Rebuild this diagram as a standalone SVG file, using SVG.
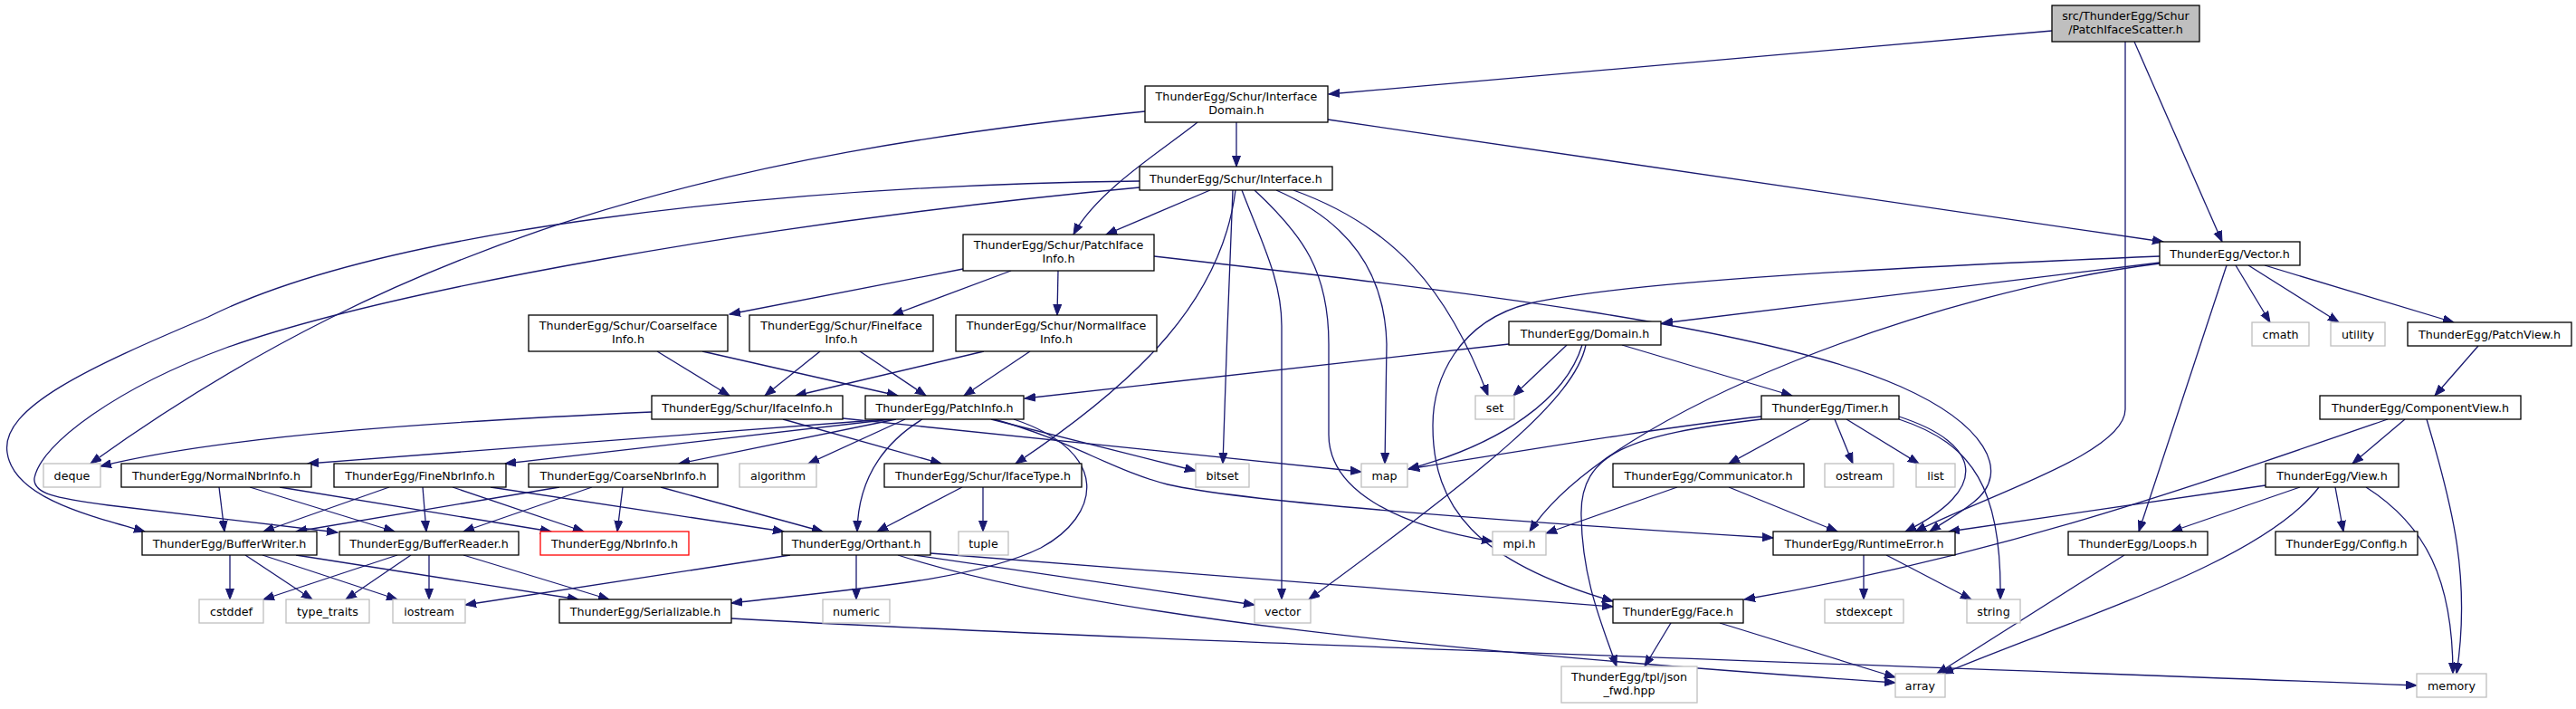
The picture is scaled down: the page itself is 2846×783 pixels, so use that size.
<svg xmlns="http://www.w3.org/2000/svg" width="2846" height="783" viewBox="0 0 2846 783">
<style>
.n rect{fill:#fff;stroke:#000;stroke-width:1.3}
.n.g rect{stroke:#bfbfbf}
.n.r rect{stroke:#f00}
.n.s rect{fill:#bfbfbf}
text{font-family:"DejaVu Sans","Liberation Sans",sans-serif;font-size:12.7px;text-anchor:middle;fill:#000}
#edges path{fill:none;stroke:#191970;stroke-width:1.3;marker-end:url(#a)}
</style>
<defs>
<marker id="a" markerWidth="14" markerHeight="11" refX="12" refY="5" orient="auto" markerUnits="userSpaceOnUse">
<path d="M0,0.5 L12,5 L0,9.5z" fill="#191970" stroke="#191970" stroke-width="1"/>
</marker>
</defs>
<rect x="0" y="0" width="2846" height="783" fill="#fff"/>
<g id="edges">
<path d="M2267,34 L1468,104"/>
<path d="M2348,46 L2348,452 C2348,500 2200,545 2116,587"/>
<path d="M2358,46 L2455,267"/>
<path d="M1366,135 L1366,184"/>
<path d="M1323,135 C1290,162 1212,210 1186,259"/>
<path d="M1467,132 L2390,267"/>
<path d="M1265,123 C800,170 450,260 100,512"/>
<path d="M1337,210 L1222,259"/>
<path d="M1259,200 C850,205 420,255 230,350 C100,405 0,450 8,500 C15,550 100,570 160,587"/>
<path d="M1259,207 C850,245 430,320 250,384 C130,428 45,490 38,528 C36,545 60,550 120,558 L373,588"/>
<path d="M1365,210 C1350,330 1260,420 1122,512"/>
<path d="M1362,210 C1358,300 1354,420 1351,512"/>
<path d="M1372,210 C1395,270 1416,310 1416,360 L1416,662"/>
<path d="M1386,210 C1440,260 1468,300 1468,380 L1468,480 C1468,540 1540,580 1649,598"/>
<path d="M1410,210 C1490,245 1530,300 1532,380 L1530,512"/>
<path d="M1429,210 C1540,250 1600,320 1644,437"/>
<path d="M1064,297 L806,347"/>
<path d="M1117,299 L986,348"/>
<path d="M1169,299 L1168,348"/>
<path d="M1275,283 C1600,320 1950,360 2100,427 C2190,467 2225,520 2180,555 C2165,567 2150,575 2132,587"/>
<path d="M726,388 L806,437"/>
<path d="M776,388 L992,437"/>
<path d="M906,388 L845,437"/>
<path d="M950,388 L1023,437"/>
<path d="M1087,388 L879,437"/>
<path d="M1138,388 L1065,437"/>
<path d="M1667,380 L1132,440"/>
<path d="M1731,381 L1672,437"/>
<path d="M1748,381 C1730,440 1660,490 1556,518"/>
<path d="M1752,381 C1740,440 1640,520 1446,662"/>
<path d="M1792,381 L1980,437"/>
<path d="M2386,283 C2100,295 1800,310 1690,335 C1610,355 1583,420 1583,470 C1583,560 1630,620 1782,664"/>
<path d="M2386,290 L1836,357"/>
<path d="M2386,291 C2150,320 1780,450 1690,587"/>
<path d="M2460,293 L2363,587"/>
<path d="M2470,293 L2508,356"/>
<path d="M2484,293 L2584,356"/>
<path d="M2502,293 L2711,356"/>
<path d="M2738,382 L2690,437"/>
<path d="M2657,463 L2599,512"/>
<path d="M2681,463 C2710,560 2730,640 2714,744"/>
<path d="M2638,463 C2400,545 2200,615 1927,662"/>
<path d="M2503,536 L2153,587"/>
<path d="M2541,538 L2399,587"/>
<path d="M2562,538 C2500,620 2300,680 2146,744"/>
<path d="M2580,538 L2589,587"/>
<path d="M2614,538 C2680,580 2710,640 2710,744"/>
<path d="M2347,613 L2140,744"/>
<path d="M1846,688 L1817,736"/>
<path d="M1900,688 L2094,748"/>
<path d="M992,613 C1200,680 1600,720 2094,754"/>
<path d="M1010,613 L1386,668"/>
<path d="M1028,611 L1782,670"/>
<path d="M873,613 L514,668"/>
<path d="M946,613 L946,662"/>
<path d="M808,683 C1200,705 1900,728 2670,757"/>
<path d="M1063,538 L969,587"/>
<path d="M1086,538 L1086,587"/>
<path d="M1019,463 C975,490 948,530 947,587"/>
<path d="M980,463 L340,512"/>
<path d="M985,463 L558,512"/>
<path d="M990,463 L750,512"/>
<path d="M1000,463 L893,512"/>
<path d="M1095,463 L1321,520"/>
<path d="M1098,463 C1180,485 1230,520 1290,535 C1380,556 1700,578 1959,594"/>
<path d="M1120,463 C1230,500 1215,570 1150,605 C1080,640 950,650 808,666"/>
<path d="M720,455 C500,465 250,480 111,515"/>
<path d="M865,463 L1040,512"/>
<path d="M931,462 L1504,521"/>
<path d="M242,538 L248,587"/>
<path d="M276,538 L436,587"/>
<path d="M309,538 L609,587"/>
<path d="M430,538 L291,587"/>
<path d="M467,538 L471,587"/>
<path d="M500,538 L645,587"/>
<path d="M542,538 L866,587"/>
<path d="M618,538 L327,587"/>
<path d="M654,538 L512,587"/>
<path d="M688,538 L682,587"/>
<path d="M730,538 L909,587"/>
<path d="M254,613 L254,662"/>
<path d="M271,613 L345,662"/>
<path d="M290,613 L439,662"/>
<path d="M327,613 L639,662"/>
<path d="M439,613 L291,662"/>
<path d="M454,613 L382,662"/>
<path d="M474,613 L474,662"/>
<path d="M512,613 L673,662"/>
<path d="M2000,463 L1910,512"/>
<path d="M2027,463 L2047,512"/>
<path d="M2040,463 L2120,512"/>
<path d="M2098,460 C2190,490 2200,540 2105,587"/>
<path d="M2098,463 C2180,490 2212,540 2210,662"/>
<path d="M1946,460 C1850,470 1700,495 1556,518"/>
<path d="M1946,463 C1800,480 1745,500 1747,570 C1748,640 1770,690 1786,736"/>
<path d="M1853,538 L1708,589"/>
<path d="M1910,538 L2030,587"/>
<path d="M2059,613 L2059,662"/>
<path d="M2084,613 L2178,662"/>
</g>
<g id="n_src" class="n s"><rect x="2267" y="6" width="163" height="40"/><text x="2348.5" y="22">src/ThunderEgg/Schur</text><text x="2348.5" y="37">/PatchIfaceScatter.h</text></g>
<g id="n_idom" class="n"><rect x="1265" y="95" width="202" height="40"/><text x="1366" y="111">ThunderEgg/Schur/Interface</text><text x="1366" y="126">Domain.h</text></g>
<g id="n_iface" class="n"><rect x="1259" y="184" width="213" height="26"/><text x="1365.5" y="201.5">ThunderEgg/Schur/Interface.h</text></g>
<g id="n_piinfo" class="n"><rect x="1064" y="259" width="211" height="40"/><text x="1169.5" y="275">ThunderEgg/Schur/PatchIface</text><text x="1169.5" y="290">Info.h</text></g>
<g id="n_vector" class="n"><rect x="2386" y="267" width="155" height="26"/><text x="2463.5" y="284.5">ThunderEgg/Vector.h</text></g>
<g id="n_cii" class="n"><rect x="584" y="348" width="220" height="40"/><text x="694" y="364">ThunderEgg/Schur/CoarseIface</text><text x="694" y="379">Info.h</text></g>
<g id="n_fii" class="n"><rect x="828" y="348" width="203" height="40"/><text x="929.5" y="364">ThunderEgg/Schur/FineIface</text><text x="929.5" y="379">Info.h</text></g>
<g id="n_nii" class="n"><rect x="1056" y="348" width="222" height="40"/><text x="1167" y="364">ThunderEgg/Schur/NormalIface</text><text x="1167" y="379">Info.h</text></g>
<g id="n_domain" class="n"><rect x="1667" y="355" width="168" height="26"/><text x="1751" y="372.5">ThunderEgg/Domain.h</text></g>
<g id="n_cmath" class="n g"><rect x="2488" y="356" width="63" height="26"/><text x="2519.5" y="373.5">cmath</text></g>
<g id="n_utility" class="n g"><rect x="2575" y="356" width="60" height="26"/><text x="2605" y="373.5">utility</text></g>
<g id="n_patchview" class="n"><rect x="2660" y="356" width="181" height="26"/><text x="2750.5" y="373.5">ThunderEgg/PatchView.h</text></g>
<g id="n_ifaceinfo" class="n"><rect x="720" y="437" width="211" height="26"/><text x="825.5" y="454.5">ThunderEgg/Schur/IfaceInfo.h</text></g>
<g id="n_patchinfo" class="n"><rect x="956" y="437" width="175" height="26"/><text x="1043.5" y="454.5">ThunderEgg/PatchInfo.h</text></g>
<g id="n_set" class="n g"><rect x="1630" y="437" width="43" height="26"/><text x="1651.5" y="454.5">set</text></g>
<g id="n_timer" class="n"><rect x="1946" y="437" width="152" height="26"/><text x="2022" y="454.5">ThunderEgg/Timer.h</text></g>
<g id="n_compview" class="n"><rect x="2563" y="437" width="222" height="26"/><text x="2674" y="454.5">ThunderEgg/ComponentView.h</text></g>
<g id="n_deque" class="n g"><rect x="48" y="512" width="63" height="26"/><text x="79.5" y="529.5">deque</text></g>
<g id="n_normalnbr" class="n"><rect x="134" y="512" width="210" height="26"/><text x="239" y="529.5">ThunderEgg/NormalNbrInfo.h</text></g>
<g id="n_finenbr" class="n"><rect x="369" y="512" width="190" height="26"/><text x="464" y="529.5">ThunderEgg/FineNbrInfo.h</text></g>
<g id="n_coarsenbr" class="n"><rect x="584" y="512" width="209" height="26"/><text x="688.5" y="529.5">ThunderEgg/CoarseNbrInfo.h</text></g>
<g id="n_algorithm" class="n g"><rect x="817" y="512" width="85" height="26"/><text x="859.5" y="529.5">algorithm</text></g>
<g id="n_ifacetype" class="n"><rect x="977" y="512" width="218" height="26"/><text x="1086" y="529.5">ThunderEgg/Schur/IfaceType.h</text></g>
<g id="n_bitset" class="n g"><rect x="1321" y="512" width="59" height="26"/><text x="1350.5" y="529.5">bitset</text></g>
<g id="n_map" class="n g"><rect x="1504" y="512" width="51" height="26"/><text x="1529.5" y="529.5">map</text></g>
<g id="n_comm" class="n"><rect x="1782" y="512" width="211" height="26"/><text x="1887.5" y="529.5">ThunderEgg/Communicator.h</text></g>
<g id="n_ostream" class="n g"><rect x="2016" y="512" width="76" height="26"/><text x="2054" y="529.5">ostream</text></g>
<g id="n_list" class="n g"><rect x="2117" y="512" width="43" height="26"/><text x="2138.5" y="529.5">list</text></g>
<g id="n_view" class="n"><rect x="2503" y="512" width="147" height="26"/><text x="2576.5" y="529.5">ThunderEgg/View.h</text></g>
<g id="n_bw" class="n"><rect x="157" y="587" width="193" height="26"/><text x="253.5" y="604.5">ThunderEgg/BufferWriter.h</text></g>
<g id="n_br" class="n"><rect x="375" y="587" width="198" height="26"/><text x="474" y="604.5">ThunderEgg/BufferReader.h</text></g>
<g id="n_nbrinfo" class="n r"><rect x="597" y="587" width="164" height="26"/><text x="679" y="604.5">ThunderEgg/NbrInfo.h</text></g>
<g id="n_orthant" class="n"><rect x="864" y="587" width="164" height="26"/><text x="946" y="604.5">ThunderEgg/Orthant.h</text></g>
<g id="n_tuple" class="n g"><rect x="1059" y="587" width="55" height="26"/><text x="1086.5" y="604.5">tuple</text></g>
<g id="n_mpi" class="n g"><rect x="1649" y="587" width="59" height="26"/><text x="1678.5" y="604.5">mpi.h</text></g>
<g id="n_rterr" class="n"><rect x="1959" y="587" width="201" height="26"/><text x="2059.5" y="604.5">ThunderEgg/RuntimeError.h</text></g>
<g id="n_loops" class="n"><rect x="2285" y="587" width="154" height="26"/><text x="2362" y="604.5">ThunderEgg/Loops.h</text></g>
<g id="n_config" class="n"><rect x="2514" y="587" width="157" height="26"/><text x="2592.5" y="604.5">ThunderEgg/Config.h</text></g>
<g id="n_cstddef" class="n g"><rect x="220" y="662" width="71" height="26"/><text x="255.5" y="679.5">cstddef</text></g>
<g id="n_typetraits" class="n g"><rect x="316" y="662" width="92" height="26"/><text x="362" y="679.5">type_traits</text></g>
<g id="n_iostream" class="n g"><rect x="434" y="662" width="80" height="26"/><text x="474" y="679.5">iostream</text></g>
<g id="n_serial" class="n"><rect x="618" y="662" width="190" height="26"/><text x="713" y="679.5">ThunderEgg/Serializable.h</text></g>
<g id="n_numeric" class="n g"><rect x="909" y="662" width="74" height="26"/><text x="946" y="679.5">numeric</text></g>
<g id="n_vectorstd" class="n g"><rect x="1386" y="662" width="62" height="26"/><text x="1417" y="679.5">vector</text></g>
<g id="n_face" class="n"><rect x="1782" y="662" width="144" height="26"/><text x="1854" y="679.5">ThunderEgg/Face.h</text></g>
<g id="n_stdexcept" class="n g"><rect x="2016" y="662" width="87" height="26"/><text x="2059.5" y="679.5">stdexcept</text></g>
<g id="n_string" class="n g"><rect x="2173" y="662" width="59" height="26"/><text x="2202.5" y="679.5">string</text></g>
<g id="n_json" class="n g"><rect x="1725" y="736" width="150" height="40"/><text x="1800" y="752">ThunderEgg/tpl/json</text><text x="1800" y="767">_fwd.hpp</text></g>
<g id="n_array" class="n g"><rect x="2094" y="744" width="55" height="26"/><text x="2121.5" y="761.5">array</text></g>
<g id="n_memory" class="n g"><rect x="2670" y="744" width="77" height="26"/><text x="2708.5" y="761.5">memory</text></g>
</svg>
